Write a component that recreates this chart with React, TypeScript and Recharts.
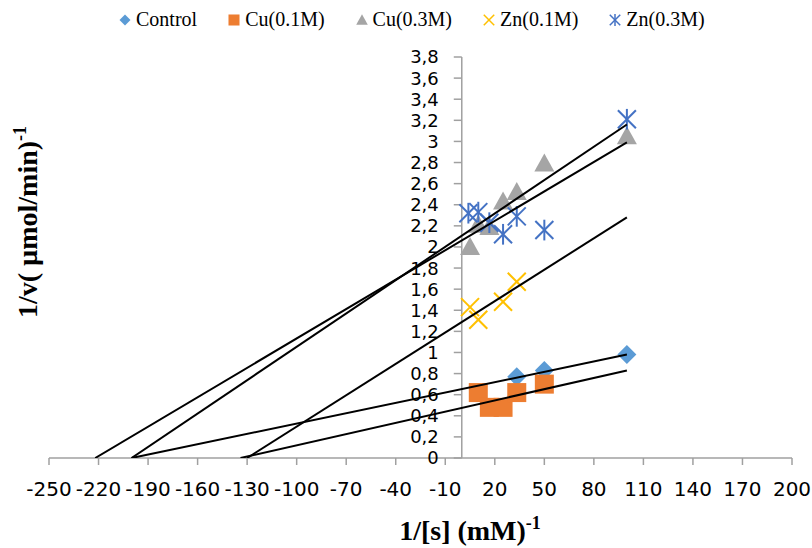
import { ScatterChart, Scatter, XAxis, YAxis, ReferenceLine, ReferenceDot } from 'recharts';

const xTicks = [-250, -220, -190, -160, -130, -100, -70, -40, -10, 20, 50, 80, 110, 140, 170, 200];
const yTicks = [0, 0.2, 0.4, 0.6, 0.8, 1, 1.2, 1.4, 1.6, 1.8, 2, 2.2, 2.4, 2.6, 2.8, 3, 3.2, 3.4, 3.6, 3.8];

const seriesNames = ['Control', 'Cu(0.1M)', 'Cu(0.3M)', 'Zn(0.1M)', 'Zn(0.3M)'];
const seriesColors = ['#5B9BD5', '#ED7D31', '#A5A5A5', '#FFC000', '#4472C4'];

const controlX = [33.3, 50, 100];
const controlY = [0.77, 0.83, 0.98];
const cu01X = [10, 16.7, 25, 33.3, 50];
const cu01Y = [0.62, 0.48, 0.48, 0.62, 0.7];
const cu03X = [5, 10, 16.7, 25, 33.3, 50, 100];
const cu03Y = [2.0, 2.21, 2.19, 2.43, 2.52, 2.79, 3.05];
const zn01X = [5, 10, 25, 33.3];
const zn01Y = [1.43, 1.31, 1.48, 1.67];
const zn03X = [4, 10, 16.7, 25, 33.3, 50, 100];
const zn03Y = [2.32, 2.33, 2.23, 2.12, 2.29, 2.16, 3.21];

// trendlines: x-intercept -> end point
const controlTrendX = [-200, 100];
const controlTrendY = [0, 0.98];
const cu01TrendX = [-134, 100];
const cu01TrendY = [0, 0.83];
const cu03TrendX = [-222, 100];
const cu03TrendY = [0, 2.99];
const zn01TrendX = [-130, 100];
const zn01TrendY = [0, 2.28];
const zn03TrendX = [-200, 100];
const zn03TrendY = [0, 3.16];

const pts = (xs: number[], ys: number[]) => xs.map((x, i) => ({ x, y: ys[i] }));

const AXIS = '#A0A0A0';

function Marker({ kind, cx, cy, s = 1 }: { kind: number; cx: number; cy: number; s?: number }) {
  const c = seriesColors[kind];
  if (kind === 0) {
    const h = 9.5 * s;
    return <polygon points={`${cx},${cy - h} ${cx + h},${cy} ${cx},${cy + h} ${cx - h},${cy}`} fill={c} />;
  }
  if (kind === 1) {
    const h = 9.5 * s;
    return <rect x={cx - h} y={cy - h} width={2 * h} height={2 * h} fill={c} />;
  }
  if (kind === 2) {
    const w = 10 * s;
    return <polygon points={`${cx},${cy - 10 * s} ${cx + w},${cy + 8 * s} ${cx - w},${cy + 8 * s}`} fill={c} />;
  }
  const h = 9 * s;
  return (
    <g stroke={c} strokeWidth={2 * Math.max(s, 0.75)}>
      <line x1={cx - h} y1={cy - h} x2={cx + h} y2={cy + h} />
      <line x1={cx - h} y1={cy + h} x2={cx + h} y2={cy - h} />
      {kind === 4 && <line x1={cx} y1={cy - h * 1.15} x2={cx} y2={cy + h * 1.15} />}
    </g>
  );
}

const shapeFor = (kind: number) => (p: any) => <Marker kind={kind} cx={p.cx} cy={p.cy} />;

function YTick(p: any) {
  const { cx, cy, value } = p;
  return (
    <g>
      <line x1={cx - 8} y1={cy} x2={cx} y2={cy} stroke={AXIS} strokeWidth={1.5} />
      <text x={cx - 23} y={cy} dy="0.36em" textAnchor="end" fontSize={18} fontFamily="DejaVu Sans" fill="#000">
        {String(value).replace('.', ',')}
      </text>
    </g>
  );
}

const titleStyle: any = {
  position: 'absolute',
  fontFamily: '"Liberation Serif", serif',
  fontWeight: 'bold',
  fontSize: 28,
  whiteSpace: 'nowrap',
  color: '#000',
};

export default function App() {
  const trend = { stroke: '#000', strokeWidth: 2 };
  return (
    <div style={{ position: 'absolute', left: 0, top: 0, width: 812, height: 548, background: '#fff' }}>
      <ScatterChart width={812} height={548} margin={{ top: 57, right: 20, left: 49, bottom: 40 }}>
        <XAxis
          type="number"
          dataKey="x"
          domain={[-250, 200]}
          ticks={xTicks}
          interval={0}
          height={50}
          tickSize={7}
          tickMargin={17}
          stroke={AXIS}
          strokeWidth={1.5}
          tick={{ fontSize: 20, fill: '#000', fontFamily: 'DejaVu Sans' }}
          allowDataOverflow
        />
        <YAxis type="number" dataKey="y" domain={[0, 3.8]} hide allowDataOverflow />
        <ReferenceLine x={0} stroke={AXIS} strokeWidth={1.5} ifOverflow="visible" />
        {yTicks.map((v) => (
          <ReferenceDot key={v} x={0} y={v} r={0} ifOverflow="visible" shape={(p: any) => <YTick {...p} value={v} />} />
        ))}
        <Scatter data={pts(controlX, controlY)} shape={shapeFor(0)} isAnimationActive={false} />
        <Scatter data={pts(cu01X, cu01Y)} shape={shapeFor(1)} isAnimationActive={false} />
        <Scatter data={pts(cu03X, cu03Y)} shape={shapeFor(2)} isAnimationActive={false} />
        <Scatter data={pts(zn01X, zn01Y)} shape={shapeFor(3)} isAnimationActive={false} />
        <Scatter data={pts(zn03X, zn03Y)} shape={shapeFor(4)} isAnimationActive={false} />
        <Scatter data={pts(controlTrendX, controlTrendY)} line={trend} shape={() => <g />} isAnimationActive={false} />
        <Scatter data={pts(cu01TrendX, cu01TrendY)} line={trend} shape={() => <g />} isAnimationActive={false} />
        <Scatter data={pts(cu03TrendX, cu03TrendY)} line={trend} shape={() => <g />} isAnimationActive={false} />
        <Scatter data={pts(zn01TrendX, zn01TrendY)} line={trend} shape={() => <g />} isAnimationActive={false} />
        <Scatter data={pts(zn03TrendX, zn03TrendY)} line={trend} shape={() => <g />} isAnimationActive={false} />
      </ScatterChart>

      <div style={{ position: 'absolute', left: 119, top: 8, display: 'flex', alignItems: 'center', gap: 31 }}>
        {seriesNames.map((n, i) => (
          <div key={n} style={{ display: 'flex', alignItems: 'center' }}>
            <svg width={12} height={14} style={{ marginRight: 5 }}>
              <Marker kind={i} cx={6} cy={7} s={0.58} />
            </svg>
            <span style={{ fontFamily: '"Liberation Serif", serif', fontSize: 20, color: '#000' }}>{n}</span>
          </div>
        ))}
      </div>

      <div style={{ ...titleStyle, left: 470, top: 530, transform: 'translate(-50%, -50%)' }}>
        1/[s] (mM)<sup style={{ fontSize: 18 }}>-1</sup>
      </div>
      <div style={{ ...titleStyle, left: 27, top: 222, transform: 'translate(-50%, -50%) rotate(-90deg)' }}>
        1/v( µmol/min)<sup style={{ fontSize: 18 }}>-1</sup>
      </div>
    </div>
  );
}
